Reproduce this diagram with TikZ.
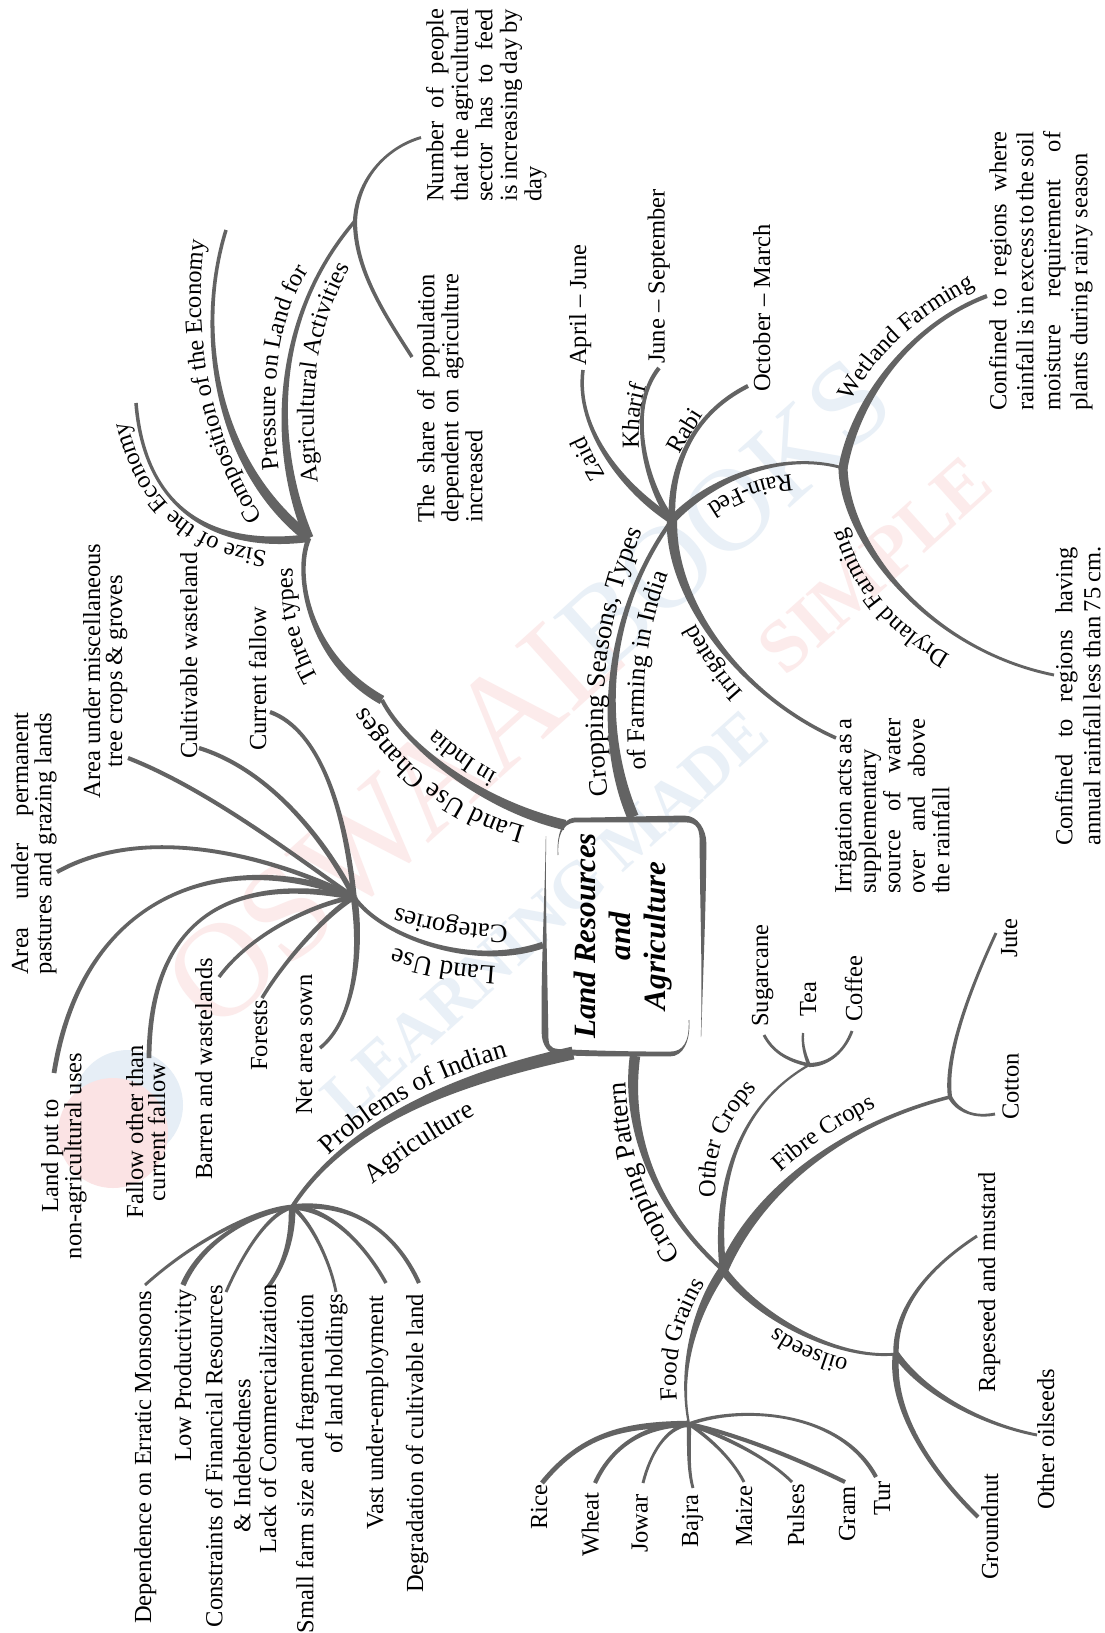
\documentclass[tikz,border=0pt]{standalone}
\usepackage{fontspec}
\setmainfont{Liberation Serif}
\usetikzlibrary{calc,decorations.text}
\definecolor{bgray}{HTML}{636363}
\definecolor{wpink}{HTML}{FCEBEB}
\definecolor{wblue}{HTML}{E9F0F7}
\definecolor{lpink}{HTML}{FBE3E4}
\definecolor{lblue}{HTML}{E6EEF6}
\newcommand\fz{\fontsize{24.5}{24.5}\selectfont}
\newcommand\fzb[1]{\fontsize{24.5}{#1}\selectfont}
\newcommand\jl[2]{\makebox[#1pt][s]{#2}}
\tikzset{
  branch/.style={fill=bgray,draw=none},
  tx/.style={rotate=90,anchor=base west,inner sep=0pt,font=\fz,text=black},
  para/.style={rotate=90,anchor=north west,inner sep=0pt,align=left,text=black},
  parc/.style={rotate=90,anchor=north,inner sep=0pt,align=center,text=black},
  parr/.style={rotate=90,anchor=north east,inner sep=0pt,align=right,text=black},
  wm/.style={inner sep=0pt,rotate=42},
}
% tapered branch: from, ctrl1, ctrl2, to, start width, end width
\newcommand\tb[6]{%
  \fill[branch] let \p0=(#1),\p1=(#2),\p2=(#3),\p3=(#4),
    \n0={atan2(\y1-\y0,\x1-\x0)+90},\n3={atan2(\y3-\y2,\x3-\x2)+90},
    \n1={0.5*(1.25*#5+0.4)*1pt},\n2={0.5*(1.25*#6+0.4)*1pt} in
    ($(\p0)+(\n0:\n1)$) .. controls ($(\p1)+(\n0:\n1)$) and ($(\p2)+(\n3:\n2)$) .. ($(\p3)+(\n3:\n2)$)
    -- ($(\p3)+(\n3:-\n2)$) .. controls ($(\p2)+(\n3:-\n2)$) and ($(\p1)+(\n0:-\n1)$) .. ($(\p0)+(\n0:-\n1)$) -- cycle;}
% curved label: [size] path, text
\newcommand\cl[3][24.5]{\path[decorate,decoration={text along path,text={|\fontsize{#1}{#1}\selectfont|#3},text align=center}] #2;}
\begin{document}
\begin{tikzpicture}[x=1pt,y=-1pt]
\useasboundingbox (0,0) rectangle (1105,1633);
\fill[white] (0,0) rectangle (1105,1633);
% watermark
\fill[lblue] (128,1105) circle (55);
\fill[lpink] (113,1133) circle (55);
\node[wm,text=wpink,font=\fontsize{135}{135}\selectfont] (wm1) at (395,815) {OSWAAL};
\node[wm,text=wblue,font=\fontsize{118}{118}\selectfont] (wm2) at (725,515) {BOOKS};
\node[wm,text=wblue,font=\fontsize{66}{66}\selectfont\bfseries] (wm3) at (545,915) {LEARNING MADE};
\node[wm,text=wpink,font=\fontsize{74}{74}\selectfont\bfseries] (wm4) at (875,565) {SIMPLE};
% hubs and ends
\coordinate (hT) at (309,538); \coordinate (hP) at (355,221); \coordinate (hLU) at (382,700);
\coordinate (hLC) at (354,897); \coordinate (hPB) at (292,1207); \coordinate (hC) at (672,520);
\coordinate (hW) at (843,468); \coordinate (hCP) at (723,1270); \coordinate (hO) at (809,1065);
\coordinate (hF) at (950,1097); \coordinate (hOS) at (896,1354); \coordinate (hFG) at (689,1424);
\coordinate (bT) at (633,817); \coordinate (bL) at (565,825); \coordinate (bC) at (543,945);
\coordinate (bB) at (573,1053); \coordinate (bP) at (635,1056);
\foreach \n/\p in {eNum/{421,137.5},eShare/{412,357},eComp/{226,230},eSize/{136,403},
 eCur/{270,712},eCult/{199,748},eMisc/{128,758},ePerm/{57,872},eNon/{54,1073},eFal/{149,1058},eBar/{219,977},eFor/{262,998},eNet/{320,1048},
 eDep/{145,1285},eLow/{183,1285},eCon/{226,1292},eLack/{268,1287},eSm/{336,1292},eVast/{386,1283},eDeg/{419,1283},
 eZ/{583,370},eK/{659,368},eR/{748,386},eWet/{987,296},eDry/{1054,675},eIrr/{836,738},
 eSug/{764,1035},eTea/{803,1033},eCof/{852,1031},eJut/{996,933},eCot/{995,1114},
 eRap/{977,1236},eOth/{1037,1435},eGro/{978,1517},
 eRi/{542,1483},eWh/{595,1483},eJo/{643,1483},eBa/{693,1488},eMa/{744,1482},ePu/{792,1482},eGr/{845,1482},eTu/{876,1477}}
 {\coordinate (\n) at (\p);}
% branches
\tb{hP}{357,180}{385,148}{eNum}{3}{2}
\tb{hP}{355,270}{385,315}{eShare}{3}{2.5}
\tb{hT}{272,450}{270,320}{hP}{7}{2.5}
\tb{hT}{215,465}{195,330}{eComp}{8}{2.5}
\tb{hT}{220,550}{145,515}{eSize}{6}{2.5}
\tb{hT}{293,575}{310,660}{hLU}{3.5}{7}
\tb{hLU}{405,745}{480,805}{bL}{3}{8}
\tb{hLC}{380,935}{470,970}{bC}{3}{5}
\tb{hLC}{345,810}{320,730}{eCur}{4}{3}
\tb{hLC}{325,840}{270,770}{eCult}{4}{3}
\tb{hLC}{300,860}{210,790}{eMisc}{3}{3}
\tb{hLC}{280,860}{150,820}{ePerm}{3.5}{3}
\tb{hLC}{240,850}{85,880}{eNon}{5}{3.5}
\tb{hLC}{240,875}{150,910}{eFal}{4.5}{3.5}
\tb{hLC}{310,905}{250,935}{eBar}{3.5}{2.5}
\tb{hLC}{325,915}{285,960}{eFor}{4}{2.5}
\tb{hLC}{362,950}{355,1020}{eNet}{5}{2.5}
\tb{bB}{450,1080}{345,1125}{hPB}{10}{3}
\tb{hPB}{255,1210}{195,1240}{eDep}{3.5}{2}
\tb{hPB}{245,1215}{200,1245}{eLow}{3}{4}
\tb{hPB}{265,1215}{240,1260}{eCon}{3}{2}
\tb{hPB}{293,1235}{285,1265}{eLack}{5}{3}
\tb{hPB}{310,1220}{330,1260}{eSm}{3}{2}
\tb{hPB}{330,1208}{365,1245}{eVast}{4}{2.5}
\tb{hPB}{350,1200}{395,1230}{eDeg}{4}{3}
\tb{bT}{600,740}{600,620}{hC}{9}{3}
\tb{hC}{625,490}{575,430}{eZ}{6}{2.5}
\tb{hC}{648,490}{625,410}{eK}{5}{3}
\tb{hC}{670,470}{690,415}{eR}{5}{3}
\tb{hC}{710,480}{780,450}{hW}{6}{2}
\tb{hW}{855,400}{910,325}{eWet}{7}{3}
\tb{hW}{845,545}{930,650}{eDry}{7}{2}
\tb{hC}{670,600}{740,695}{eIrr}{8}{2.5}
\tb{bP}{625,1130}{655,1210}{hCP}{8}{3}
\tb{hCP}{715,1200}{730,1110}{hO}{5}{1.5}
\tb{hO}{785,1060}{772,1050}{eSug}{2.5}{2}
\tb{hO}{805,1055}{802,1045}{eTea}{2.5}{1.5}
\tb{hO}{830,1065}{845,1050}{eCof}{3}{2}
\tb{hCP}{760,1185}{850,1122}{hF}{8}{2.5}
\tb{hF}{945,1060}{965,1000}{eJut}{3}{2}
\tb{hF}{958,1112}{975,1118}{eCot}{3}{2}
\tb{hCP}{760,1320}{840,1360}{hOS}{6}{2}
\tb{hOS}{895,1310}{925,1270}{eRap}{4}{2}
\tb{hOS}{925,1395}{985,1425}{eOth}{5}{2}
\tb{hOS}{890,1410}{930,1470}{eGro}{5}{3}
\tb{hCP}{695,1310}{678,1370}{hFG}{7}{1.5}
\tb{hFG}{630,1425}{585,1430}{eRi}{5}{3.5}
\tb{hFG}{640,1425}{610,1450}{eWh}{4}{3}
\tb{hFG}{665,1428}{650,1455}{eJo}{3}{2}
\tb{hFG}{689,1450}{688,1470}{eBa}{3}{2}
\tb{hFG}{705,1435}{730,1455}{eMa}{2.5}{2}
\tb{hFG}{720,1435}{765,1455}{ePu}{3}{2}
\tb{hFG}{740,1435}{800,1460}{eGr}{3}{3}
\tb{hFG}{740,1405}{840,1410}{eTu}{2.5}{3}
% central box strokes
\tb{558,855}{557,835}{562,822}{574,820}{0.2}{3.5}
\tb{574,820}{610,820}{650,819}{685,819}{3.5}{5}
\tb{685,819}{698,819}{703,830}{703,843}{5}{5}
\tb{703,843}{703,900}{703,970}{701,1037}{5}{0}
\tb{546,836}{545,900}{544,970}{545,1033}{0}{5}
\tb{545,1033}{545,1045}{549,1051}{558,1052}{5}{4.5}
\tb{558,1052}{600,1054}{640,1054}{670,1054}{4.5}{3.5}
\tb{670,1054}{683,1054}{690,1042}{689,1020}{3.5}{0.2}
\node[parc,font=\fontsize{31}{35}\selectfont\bfseries\itshape] (root) at (574,936) {Land Resources\\and\\Agriculture};
% curved labels
\cl{(284,552) .. controls (205,550) and (140,505) .. (124,405)}{Size of the Economy}
\cl{(272,530) .. controls (225,470) and (185,350) .. (207,225)}{Composition of the Economy}
\cl{(279,472) .. controls (270,400) and (275,320) .. (310,268)}{Pressure on Land for}
\cl{(318,482) .. controls (308,400) and (315,330) .. (350,268)}{Agricultural Activities}
\cl{(323,685) .. controls (302,650) and (290,610) .. (293,560)}{Three types}
\cl[27]{(542,831) .. controls (468,815) and (400,772) .. (358,692)}{Land Use Changes}
\cl{(508,778) .. controls (483,767) and (453,745) .. (428,722)}{in India}
\cl[27]{(505,967) .. controls (465,965) and (425,960) .. (385,945)}{Land Use}
\cl[26.5]{(525,925) .. controls (480,927) and (430,920) .. (380,902)}{Categories}
\cl[27]{(318,1166) .. controls (380,1105) and (440,1075) .. (522,1053)}{Problems of Indian}
\cl[27]{(360,1195) .. controls (405,1155) and (440,1135) .. (490,1107)}{Agriculture}
\cl[26.5]{(612,812) .. controls (595,730) and (600,620) .. (650,515)}{Cropping Seasons, Types}
\cl[25.5]{(648,790) .. controls (640,710) and (640,640) .. (676,555)}{of Farming in India}
\cl{(614,490) .. controls (602,470) and (590,450) .. (578,420)}{Zaid}
\cl{(640,460) .. controls (637,430) and (640,405) .. (650,375)}{Kharif}
\cl{(676,462) .. controls (684,445) and (695,428) .. (708,408)}{Rabi}
\cl{(800,474) .. controls (765,475) and (735,485) .. (700,510)}{Rain-Fed}
\cl{(846,412) .. controls (870,360) and (910,320) .. (985,282)}{Wetland Farming}
\cl{(962,662) .. controls (905,630) and (862,595) .. (842,515)}{Dryland Farming}
\cl{(752,702) .. controls (730,680) and (712,655) .. (690,612)}{Irrigated}
\cl[27]{(696,1278) .. controls (650,1215) and (625,1160) .. (625,1055)}{Cropping Pattern}
\cl{(716,1205) .. controls (712,1155) and (725,1120) .. (762,1083)}{Other Crops}
\cl{(772,1180) .. controls (810,1145) and (840,1125) .. (886,1102)}{Fibre Crops}
\cl{(860,1362) .. controls (828,1355) and (798,1345) .. (768,1320)}{oilseeds}
\cl{(678,1410) .. controls (672,1360) and (680,1325) .. (710,1275)}{Food Grains}
% text
\node[para,font=\fzb{24.5}] (tNum) at (426,202) {\jl{193}{Number of people}\\\jl{193}{that the agricultural}\\\jl{193}{sector has to feed}\\\jl{193}{is increasing day by}\\day};
\node[para,font=\fzb{24}] (tShare) at (417,523) {\jl{249}{The share of population}\\\jl{249}{dependent on agriculture}\\increased};
\node[para,font=\fzb{22}] (tPerm) at (11,975) {\jl{262}{Area under permanent}\\\jl{262}{pastures and grazing lands}};
\node[parc,font=\fzb{22}] (tMisc) at (83,671) {Area under miscellaneous\\tree crops \& groves};
\node[tx] (tCult) at (197,759) {Cultivable wasteland};
\node[tx] (tCur) at (266,751) {Current fallow};
\node[tx] (tBar) at (212,1180) {Barren and wastelands};
\node[tx] (tFor) at (267,1071) {Forests};
\node[tx] (tNet) at (312,1115) {Net area sown};
\node[parc,font=\fzb{21}] (tNon) at (41,1156) {Land put to\\non-agricultural uses};
\node[parc,font=\fzb{22}] (tFal) at (126,1132) {Fallow other than\\current fallow};
\node[tx] (tDep) at (151,1624) {Dependence on Erratic Monsoons};
\node[tx] (tLow) at (191,1462) {Low Productivity};
\node[parc,font=\fzb{28}] (tCon) at (205,1456) {Constraints of Financial Resources\\\& Indebtedness};
\node[tx] (tLack) at (276,1554) {Lack of Commercialization};
\node[parr,font=\fzb{29}] (tSm) at (296,1294) {Small farm size and fragmentation\\of land holdings};
\node[tx] (tVast) at (383,1530) {Vast under-employment};
\node[tx] (tDeg) at (423,1593) {Degradation of cultivable land};
\node[tx] (tApr) at (586,366) {April -- June};
\node[tx] (tJun) at (664.5,364) {June -- September};
\node[tx] (tOct) at (770,392) {October -- March};
\node[para,font=\fzb{27}] (tWet) at (989,411) {\jl{279}{Confined to regions where}\\\jl{279}{rainfall is in excess to the soil}\\\jl{279}{moisture requirement of}\\\jl{258}{plants during rainy season}};
\node[para,font=\fzb{28}] (tDry) at (1055,846) {\jl{299}{Confined to regions having}\\\jl{299}{annual rainfall less than 75 cm.}};
\node[para,font=\fzb{24.5}] (tIrr) at (835,894) {\jl{175}{Irrigation acts as a}\\\jl{175}{supplementary}\\\jl{175}{source of water}\\\jl{175}{over and above}\\the rainfall};
\node[tx] (tSug) at (768,1027) {Sugarcane};
\node[tx] (tTea) at (816,1017) {Tea};
\node[tx] (tCof) at (862,1022) {Coffee};
\node[tx] (tJut) at (1017,958) {Jute};
\node[tx] (tCot) at (1018.5,1120) {Cotton};
\node[tx] (tRi) at (547,1530) {Rice};
\node[tx] (tWh) at (598.5,1557) {Wheat};
\node[tx] (tJo) at (647.5,1553) {Jowar};
\node[tx] (tBa) at (698,1548) {Bajra};
\node[tx] (tMa) at (752,1547) {Maize};
\node[tx] (tPu) at (804,1547) {Pulses};
\node[tx] (tGr) at (855,1542) {Gram};
\node[tx] (tTu) at (890,1516) {Tur};
\node[tx] (tGro) at (998,1580) {Groundnut};
\node[tx] (tOth) at (1054,1510) {Other oilseeds};
\node[tx] (tRap) at (995,1393) {Rapeseed and mustard};
\end{tikzpicture}
\end{document}
